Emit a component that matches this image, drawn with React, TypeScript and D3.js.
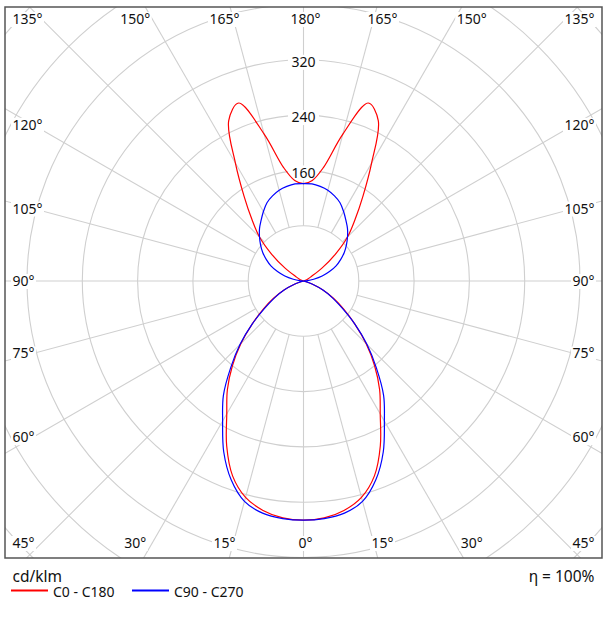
import React from 'react';
import * as d3 from 'd3';

// Polar angle gamma (degrees, 0 = straight down)
const GAMMA = [0, 5, 10, 15, 20, 25, 30, 35, 40, 45, 50, 55, 60, 65, 70, 75, 80, 85, 90,
  95, 100, 105, 110, 115, 120, 125, 130, 135, 140, 145, 150, 155, 160, 165, 170, 175, 180];

// Luminous intensity, cd/klm
const C0_C180 = [346, 344, 337, 324, 300, 263, 222, 192, 160, 128, 97, 71, 50, 31, 14, 4, 1, 0, 0,
  0, 0, 1, 3, 7, 13, 33, 60, 90, 116, 150, 197, 256, 274, 220, 167, 146, 141];
const C90_C270 = [346, 345, 341, 330, 306, 273, 234, 202, 164, 130, 97, 68, 48, 31, 14, 4, 1, 0, 0,
  6, 15, 28, 40, 52, 62, 72, 81, 90, 99, 107, 116, 125, 131, 136, 139, 141, 141];

const SERIES_NAMES = ['C0 - C180', 'C90 - C270'];
const SERIES_COLORS = ['#ff0000', '#0000ff'];

const RING_VALUES = [80, 160, 240, 320, 400, 480, 560, 640];
const RING_LABELS = [160, 240, 320];
const ANGLE_TICKS = [0, 15, 30, 45, 60, 75, 90, 105, 120, 135, 150, 165, 180];
const UNIT_LABEL = 'cd/klm';
const EFFICIENCY_LABEL = 'η = 100%';

const FONT = "'Noto Sans', 'DejaVu Sans', sans-serif";

let ctx: CanvasRenderingContext2D | null = null;
function measure(t: string, size: number) {
  if (!ctx) ctx = document.createElement('canvas').getContext('2d');
  if (!ctx) return t.length * size * 0.55;
  ctx.font = `${size}px 'Noto Sans'`;
  return ctx.measureText(t).width;
}

export default function App() {
  const W = 607, H = 623;
  const box = { x: 5, y: 7, w: 597, h: 551 };
  const cx = 303.5, cy = 281;
  const rScale = d3.scaleLinear().domain([0, 80]).range([0, 55.3]);
  const innerR = rScale(RING_VALUES[0]);
  const toRad = (d: number) => (d * Math.PI) / 180;

  // curves
  const radial = d3
    .lineRadial<{ a: number; r: number }>()
    .angle((d) => d.a)
    .radius((d) => d.r)
    .curve(d3.curveCatmullRomClosed.alpha(0.5));

  const seriesData = [C0_C180, C90_C270].map((vals) => {
    const pts: { a: number; r: number }[] = [];
    GAMMA.forEach((g, i) => pts.push({ a: Math.PI - toRad(g), r: rScale(vals[i]) }));
    for (let i = GAMMA.length - 2; i >= 1; i--) pts.push({ a: Math.PI + toRad(GAMMA[i]), r: rScale(vals[i]) });
    const out: { a: number; r: number }[] = [];
    pts.forEach((p) => {
      const prev = out[out.length - 1];
      if (prev && prev.r === 0 && p.r === 0) return;
      out.push(p);
    });
    return radial(out) || '';
  });

  // spokes
  const spokes = d3.range(0, 360, 15);

  // angle labels
  type Lab = { text: string; x: number; y: number; anchor: 'start' | 'middle' | 'end'; w: number };
  const labels: Lab[] = [];
  const fs = 14;
  ANGLE_TICKS.forEach((t) => {
    const sides = t === 0 || t === 180 ? [0] : [-1, 1];
    sides.forEach((side) => {
      const text = `${t}°`;
      const w = measure(text, fs);
      if (t <= 45 || t >= 135) {
        const phi = t <= 45 ? t : 180 - t;
        const crossing = cx + side * 262 * Math.tan(toRad(phi));
        let c = crossing + side * 34 * Math.sin(toRad(phi));
        if (side === 0) c = cx + 2;
        c = Math.max(12.5 + w / 2, Math.min(594.5 - w / 2, c));
        labels.push({ text, x: c, y: t <= 45 ? 548 : 24, anchor: 'middle', w });
      } else {
        const yc = cy + 270.5 * (Math.cos(toRad(t)) / Math.sin(toRad(t)));
        labels.push({
          text,
          x: side < 0 ? 12.5 : 594.5,
          y: yc + 5,
          anchor: side < 0 ? 'start' : 'end',
          w,
        });
      }
    });
  });

  return (
    <svg width={W} height={H} style={{ position: 'absolute', left: 0, top: 0, background: '#fff' }}>
      <defs>
        <clipPath id="boxclip">
          <rect x={box.x} y={box.y} width={box.w} height={box.h} />
        </clipPath>
      </defs>
      <rect x={0} y={0} width={W} height={H} fill="#fff" />
      <g clipPath="url(#boxclip)">
        {RING_VALUES.map((v) => (
          <circle key={v} cx={cx} cy={cy} r={rScale(v)} fill="none" stroke="#cfcfcf" strokeWidth={1.1} />
        ))}
        {spokes.map((a) => {
          const rad = toRad(a);
          return (
            <line
              key={a}
              x1={cx + innerR * Math.sin(rad)}
              y1={cy + innerR * Math.cos(rad)}
              x2={cx + 700 * Math.sin(rad)}
              y2={cy + 700 * Math.cos(rad)}
              stroke="#cfcfcf"
              strokeWidth={1.1}
            />
          );
        })}
      </g>
      {labels.map((l, i) => {
        const left = l.anchor === 'start' ? l.x : l.anchor === 'end' ? l.x - l.w : l.x - l.w / 2;
        return (
          <g key={i}>
            <rect x={left - 1.5} y={l.y - 12} width={l.w + 3} height={15} fill="#fff" />
            <text x={l.x} y={l.y} textAnchor={l.anchor} fontFamily={FONT} fontSize={fs} fill="#111">
              {l.text}
            </text>
          </g>
        );
      })}
      {RING_LABELS.map((v) => {
        const yc = cy - rScale(v);
        const w = measure(String(v), fs);
        return (
          <g key={v}>
            <rect x={cx - w / 2 - 3.5} y={yc - 5} width={w + 7} height={15} fill="#fff" />
            <text x={cx} y={yc + 7.3} textAnchor="middle" fontFamily={FONT} fontSize={fs} fill="#111">
              {v}
            </text>
          </g>
        );
      })}
      <g transform={`translate(${cx},${cy})`}>
        {seriesData.map((d, i) => (
          <path key={i} d={d} fill="none" stroke={SERIES_COLORS[i]} strokeWidth={1.2} />
        ))}
      </g>
      <rect x={box.x} y={box.y} width={box.w} height={box.h} fill="none" stroke="#555" strokeWidth={1.5} />
      <text x={12.5} y={581.5} fontFamily={FONT} fontSize={15.5} fill="#111">{UNIT_LABEL}</text>
      <text x={594.5} y={581.5} textAnchor="end" fontFamily={FONT} fontSize={15.5} fill="#111">{EFFICIENCY_LABEL}</text>
      {SERIES_NAMES.map((n, i) => {
        const x0 = i === 0 ? 11 : 132;
        return (
          <g key={n}>
            <line x1={x0} x2={x0 + 37} y1={590.5} y2={590.5} stroke={SERIES_COLORS[i]} strokeWidth={2} />
            <text x={x0 + 42} y={597} fontFamily={FONT} fontSize={14} fill="#111">{n}</text>
          </g>
        );
      })}
    </svg>
  );
}
